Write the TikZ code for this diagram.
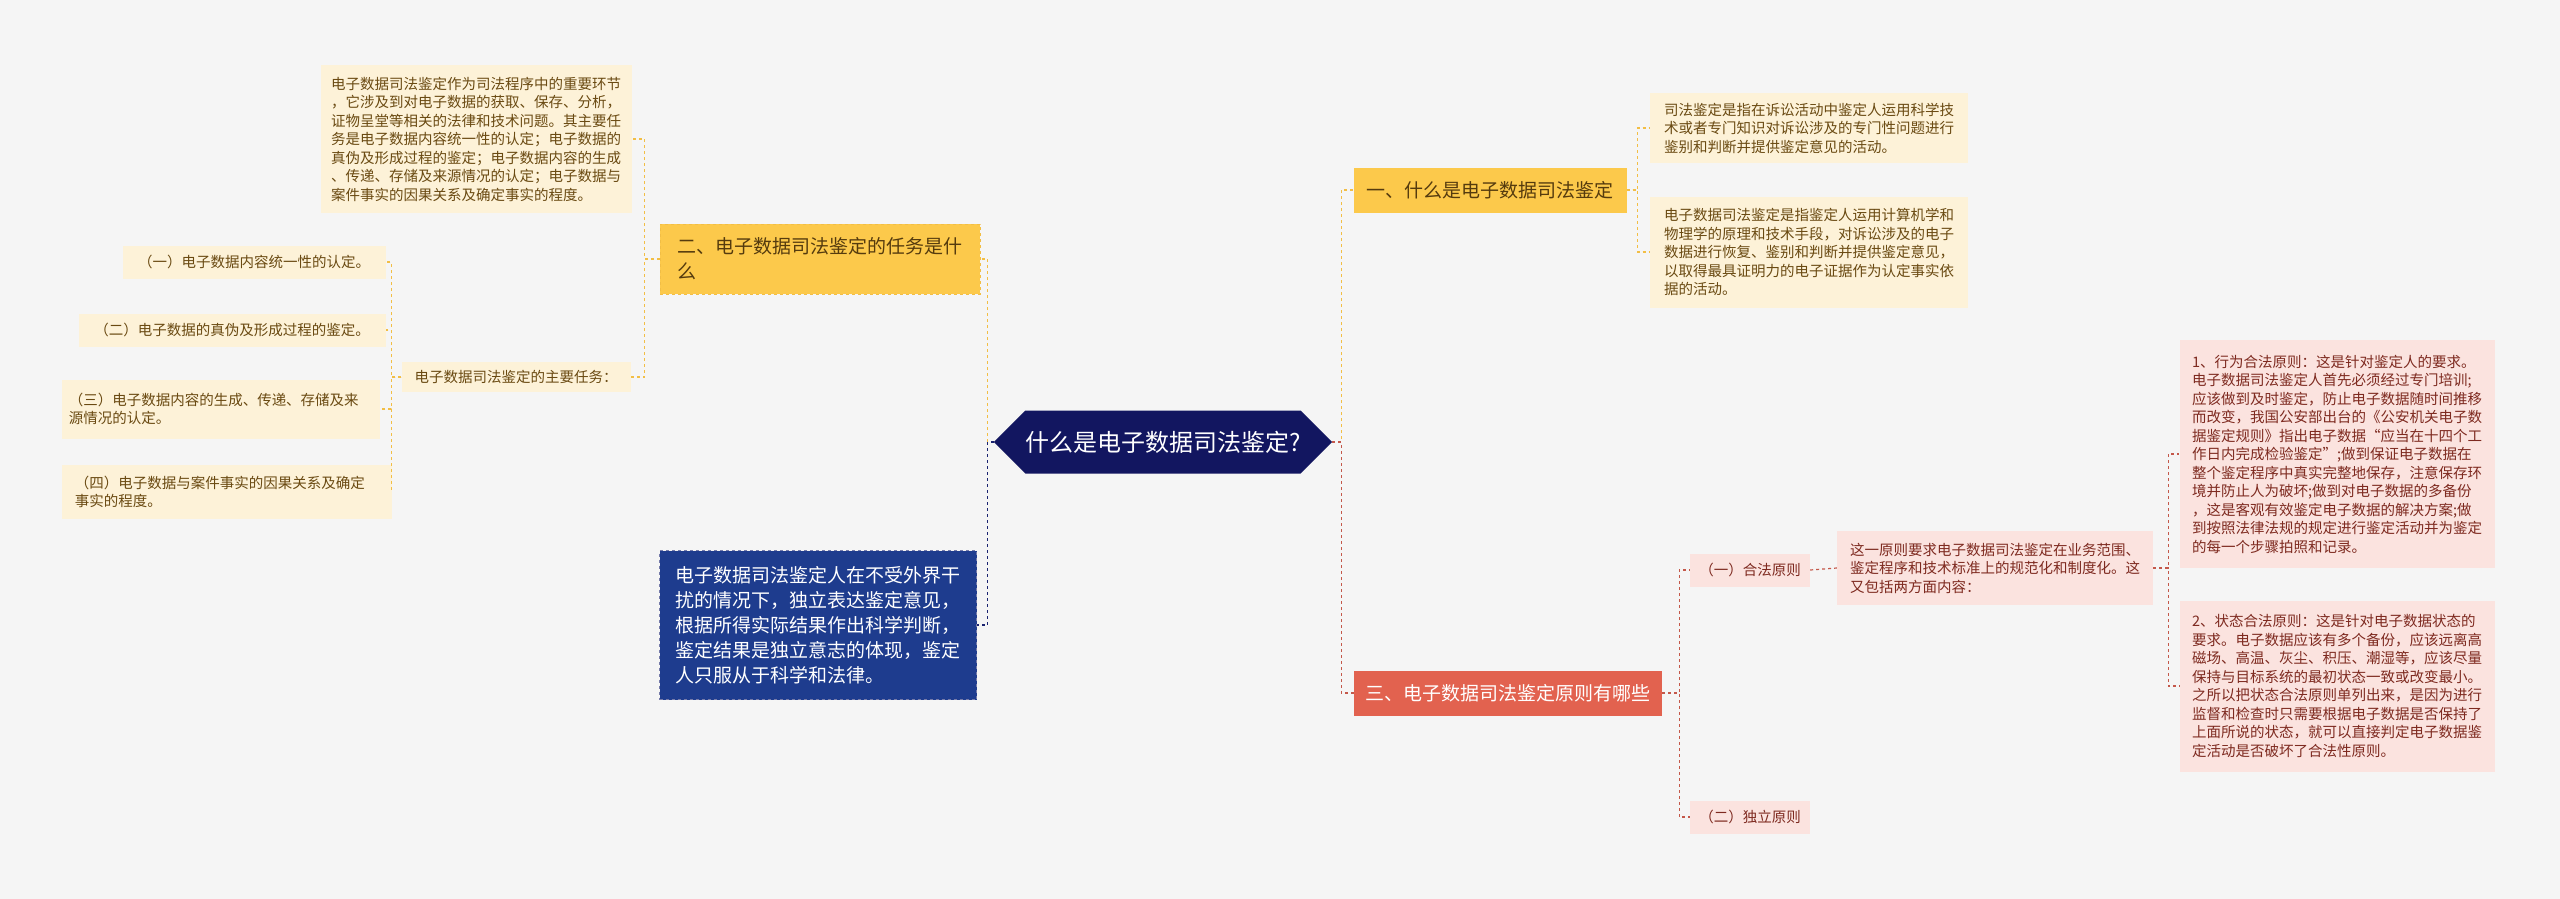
\documentclass[tikz,border=0pt]{standalone}
\usepackage{fontspec}
\setmainfont{Noto Sans CJK SC}
\usetikzlibrary{shapes.symbols}
\definecolor{bgcol}{HTML}{F5F5F5}
\definecolor{rootcol}{HTML}{121660}
\definecolor{ylw}{HTML}{FCC94B}
\definecolor{ylwleaf}{HTML}{FDF2D8}
\definecolor{ylwtext}{HTML}{6A4A12}
\definecolor{ylwline}{HTML}{F2BE45}
\definecolor{bluebox}{HTML}{1E3C8E}
\definecolor{blueline}{HTML}{1A2370}
\definecolor{redbox}{HTML}{E2624F}
\definecolor{redleaf}{HTML}{FBE3DF}
\definecolor{redtext}{HTML}{7E2A20}
\definecolor{redline}{HTML}{C4584A}

\begin{document}
\begin{tikzpicture}[x=1pt, y=-1pt]
                \tikzstyle{leaf}=[rectangle, align=left, inner sep=0pt, font=\fontsize{14.5}{18.5}\selectfont]
                \tikzstyle{yleaf}=[leaf, fill=ylwleaf, text=ylwtext]
                \tikzstyle{rleaf}=[leaf, fill=redleaf, text=redtext]
                \tikzstyle{branch}=[rectangle, align=left, inner sep=0pt, font=\fontsize{19}{25}\selectfont]
                \tikzstyle{yl}=[draw=ylwline, dashed, line width=1.2pt]
                \tikzstyle{bl}=[draw=blueline, dashed, line width=1.2pt]
                \tikzstyle{rl}=[draw=redline, dashed, line width=1.2pt]

                \fill[bgcol] (0,0) rectangle (2560,899);

                \node[signal, signal to=east and west, fill=rootcol, text=white, minimum width=335, minimum height=63, inner sep=0pt, font=\fontsize{24}{28}\selectfont] (root) at (1163,442) {什么是电子数据司法鉴定?};

                % branch one
                \node[branch, fill=ylw, text=ylwtext!80!black, minimum width=273, minimum height=45] (b1) at (1490,190) {一、什么是电子数据司法鉴定};
                \node[yleaf, minimum width=318, minimum height=70] (l1a) at (1809,128) {司法鉴定是指在诉讼活动中鉴定人运用科学技\\术或者专门知识对诉讼涉及的专门性问题进行\\鉴别和判断并提供鉴定意见的活动。};
                \node[yleaf, minimum width=318, minimum height=111] (l1b) at (1809,252) {电子数据司法鉴定是指鉴定人运用计算机学和\\物理学的原理和技术手段，对诉讼涉及的电子\\数据进行恢复、鉴别和判断并提供鉴定意见，\\以取得最具证明力的电子证据作为认定事实依\\据的活动。};

                % branch two
                \node[branch, fill=ylw, draw=ylwline, dashed, text=ylwtext!80!black, minimum width=320, minimum height=70] (b2) at (820,259) {二、电子数据司法鉴定的任务是什\\么\phantom{二、电子数据司法鉴定的任务是}};
                \node[yleaf, minimum width=311, minimum height=147] (n2) at (476,139) {电子数据司法鉴定作为司法程序中的重要环节\\，它涉及到对电子数据的获取、保存、分析，\\证物呈堂等相关的法律和技术问题。其主要任\\务是电子数据内容统一性的认定；电子数据的\\真伪及形成过程的鉴定；电子数据内容的生成\\、传递、存储及来源情况的认定；电子数据与\\案件事实的因果关系及确定事实的程度。};
                \node[yleaf, minimum width=229, minimum height=30] (t2) at (516,377) {电子数据司法鉴定的主要任务：};
                \node[yleaf, minimum width=263, minimum height=33] (i1) at (254,262) {（一）电子数据内容统一性的认定。};
                \node[yleaf, minimum width=307, minimum height=33] (i2) at (232,330) {（二）电子数据的真伪及形成过程的鉴定。};
                \node[yleaf, minimum width=318, minimum height=59] (i3) at (221,409) {（三）电子数据内容的生成、传递、存储及来\\源情况的认定。\phantom{（三）电子数据内容的生成、传}};
                \node[yleaf, minimum width=330, minimum height=54] (i4) at (227,492) {（四）电子数据与案件事实的因果关系及确定\\事实的程度。\phantom{（四）电子数据与案件事实的因果}};

                % blue note
                \node[branch, fill=bluebox, draw=blueline!60!white, dashed, text=white, minimum width=317, minimum height=149] (nb) at (818,625) {电子数据司法鉴定人在不受外界干\\扰的情况下，独立表达鉴定意见，\\根据所得实际结果作出科学判断，\\鉴定结果是独立意志的体现，鉴定\\人只服从于科学和法律。};

                % branch three
                \node[branch, fill=redbox, text=white, minimum width=308, minimum height=45] (b3) at (1508,693) {三、电子数据司法鉴定原则有哪些};
                \node[rleaf, minimum width=120, minimum height=33] (p1) at (1750,570) {（一）合法原则};
                \node[rleaf, minimum width=120, minimum height=33] (p2) at (1750,817) {（二）独立原则};
                \node[rleaf, minimum width=316, minimum height=74] (pn) at (1995,568) {这一原则要求电子数据司法鉴定在业务范围、\\鉴定程序和技术标准上的规范化和制度化。这\\又包括两方面内容：};
                \node[rleaf, minimum width=315, minimum height=228] (s1) at (2337,454) {1、行为合法原则：这是针对鉴定人的要求。\\电子数据司法鉴定人首先必须经过专门培训;\\应该做到及时鉴定，防止电子数据随时间推移\\而改变，我国公安部出台的《公安机关电子数\\据鉴定规则》指出电子数据“应当在十四个工\\作日内完成检验鉴定”;做到保证电子数据在\\整个鉴定程序中真实完整地保存，注意保存环\\境并防止人为破坏;做到对电子数据的多备份\\，这是客观有效鉴定电子数据的解决方案;做\\到按照法律法规的规定进行鉴定活动并为鉴定\\的每一个步骤拍照和记录。};
                \node[rleaf, minimum width=315, minimum height=171] (s2) at (2337,686) {2、状态合法原则：这是针对电子数据状态的\\要求。电子数据应该有多个备份，应该远离高\\磁场、高温、灰尘、积压、潮湿等，应该尽量\\保持与目标系统的最初状态一致或改变最小。\\之所以把状态合法原则单列出来，是因为进行\\监督和检查时只需要根据电子数据是否保持了\\上面所说的状态，就可以直接判定电子数据鉴\\定活动是否破坏了合法性原则。};

                % connectors
                \draw[yl] (root.west) -- ++(-6,0) |- (b2.east);
                \draw[bl] (root.west) -- ++(-6,0) |- (nb.east);
                \draw[yl] (root.east) -- ++(9,0) |- (b1.west);
                \draw[rl] (root.east) -- ++(9,0) |- (b3.west);
                \draw[yl] (b1.east) -- ++(11,0) |- (l1a.west);
                \draw[yl] (b1.east) -- ++(11,0) |- (l1b.west);
                \draw[yl] (b2.west) -- ++(-15,0) |- (n2.east);
                \draw[yl] (b2.west) -- ++(-15,0) |- (t2.east);
                \foreach \i in {i1,i2,i3,i4}
                    \draw[yl] (t2.west) -- ++(-10,0) |- (\i.east);
                \draw[rl] (b3.east) -- ++(17,0) |- (p1.west);
                \draw[rl] (b3.east) -- ++(17,0) |- (p2.west);
                \draw[rl] (p1.east) -- (pn.west);
                \draw[rl] (pn.east) -- ++(15,0) |- (s1.west);
                \draw[rl] (pn.east) -- ++(15,0) |- (s2.west);
            \end{tikzpicture}
\end{document}
